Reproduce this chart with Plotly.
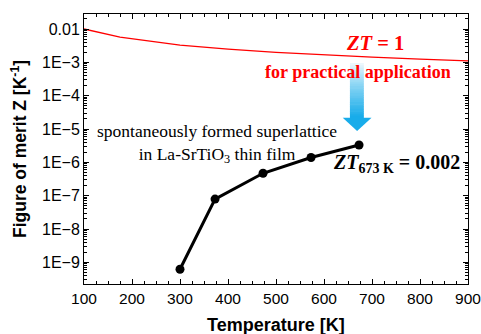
import plotly.graph_objects as go
import numpy as np

# Data
red_T = [100, 175, 300, 400, 500, 600, 700, 800, 900]
red_Z = [0.01, 0.0057, 0.0033, 0.0025, 0.002, 0.00167, 0.00143, 0.00125, 0.00111]
film_T = [300, 373, 473, 573, 673]
film_Z = [6.2e-10, 7.9e-8, 4.7e-7, 1.4e-6, 3.3e-6]
ytick_vals = [1e-2, 1e-3, 1e-4, 1e-5, 1e-6, 1e-7, 1e-8, 1e-9]
ytick_text = ["0.01", "1E\u22123", "1E\u22124", "1E\u22125", "1E\u22126", "1E\u22127", "1E\u22128", "1E\u22129"]

fig = go.Figure()
fig.add_trace(go.Scatter(x=red_T, y=red_Z, mode="lines",
                         line=dict(color="#ff0000", width=1.3), showlegend=False))
fig.add_trace(go.Scatter(x=film_T, y=film_Z, mode="lines+markers",
                         line=dict(color="black", width=3),
                         marker=dict(color="black", size=9), showlegend=False))

minor_y = []
for e in range(-10, -1):
    for m in range(2, 10):
        minor_y.append(m * 10.0 ** e)

sans = "Liberation Sans, Arial, sans-serif"
serif = "Liberation Serif, Times New Roman, serif"

fig.update_layout(
    width=481, height=334,
    margin=dict(l=84, r=13, t=14, b=50),
    paper_bgcolor="white", plot_bgcolor="white",
    xaxis=dict(range=[100, 900], dtick=100, tick0=100, automargin=False,
               showline=True, linecolor="black", linewidth=1, mirror="ticks",
               ticks="inside", ticklen=5, tickcolor="black",
               minor=dict(ticks="inside", ticklen=3, dtick=25, tickcolor="black"),
               showgrid=False, zeroline=False, ticklabeloverflow="allow",
               tickfont=dict(family=sans, size=15.5, color="black")),
    yaxis=dict(type="log", range=[-9.65, -1.55], automargin=False,
               tickvals=ytick_vals, ticktext=ytick_text,
               showline=True, linecolor="black", linewidth=1, mirror="ticks",
               ticks="inside", ticklen=5, tickcolor="black",
               minor=dict(ticks="inside", ticklen=3, tickvals=minor_y, tickcolor="black"),
               showgrid=False, zeroline=False,
               tickfont=dict(family=sans, size=16, color="black"),
               title=dict(text="<b>Figure of merit Z [K<sup>-1</sup>]</b>", font=dict(family=sans, size=17.5, color="black"), standoff=10)),
)

fig.add_annotation(x=0.5, y=-0.152, xref="paper", yref="paper", showarrow=False,
                   text="<b>Temperature [K]</b>", font=dict(family=sans, size=18, color="black"),
                   yanchor="middle")

# Gradient arrow (shaft made of thin strips)
n = 24
y_top, y_bot = 0.8185, 0.6148
c_end = np.array([24, 172, 234])
for i in range(n):
    f0 = i / n
    f1 = (i + 1) / n
    t = min(1.0, (f1) ** 0.8)
    c = (np.array([255, 255, 255]) * (1 - t) + c_end * t).astype(int)
    fig.add_shape(type="rect", xref="x", yref="paper",
                  x0=654, x1=683,
                  y0=y_top - (y_top - y_bot) * f0, y1=y_top - (y_top - y_bot) * f1 - 0.002,
                  line=dict(width=0), fillcolor=f"rgb({c[0]},{c[1]},{c[2]})", layer="above")
fig.add_shape(type="path", xref="x", yref="paper",
              path="M 639,0.6158 L 699,0.6158 L 669,0.5667 Z",
              line=dict(width=0), fillcolor="rgb(24,172,234)", layer="above")

fig.add_annotation(x=377, y=-5.43, xref="x", yref="y", showarrow=False,
                   text="spontaneously formed superlattice<br>in La-SrTiO<sub>3</sub> thin film",
                   font=dict(family=serif, size=17.5, color="black"), align="center")
fig.add_annotation(x=706, y=-2.42, xref="x", yref="y", showarrow=False,
                   text="<b><i>ZT</i> = 1</b>", font=dict(family=serif, size=20.5, color="#ff0000"))
fig.add_annotation(x=671, y=-3.3, xref="x", yref="y", showarrow=False,
                   text="<b>for practical application</b>", font=dict(family=serif, size=18, color="#ff0000"))
fig.add_annotation(x=752, y=-6.03, xref="x", yref="y", showarrow=False,
                   text="<b><i>ZT</i><sub>673 K</sub> = 0.002</b>", font=dict(family=serif, size=20, color="black"))

fig.write_html("out.html")
